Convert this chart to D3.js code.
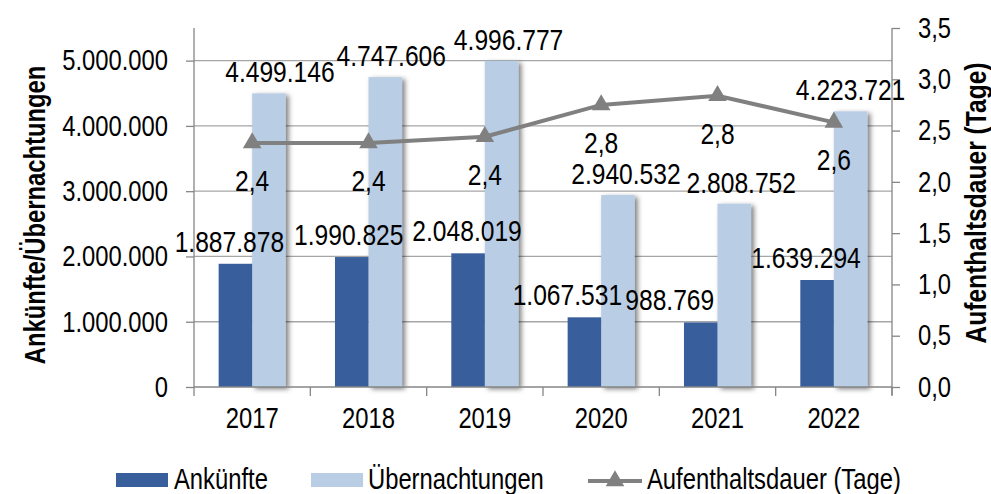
<!DOCTYPE html>
<html>
<head>
<meta charset="utf-8">
<script src="https://cdn.jsdelivr.net/npm/d3@7"></script>
<style>
  body { margin: 0; background: #fff; }
  svg text { font-family: "Liberation Sans Narrow", "Arial Narrow", "Liberation Sans", sans-serif; fill: #000; }
</style>
</head>
<body>
<svg width="991" height="494"></svg>
<script>
// data
var years = ["2017", "2018", "2019", "2020", "2021", "2022"];
var arrivals = [1887878, 1990825, 2048019, 1067531, 988769, 1639294];
var nights = [4499146, 4747606, 4996777, 2940532, 2808752, 4223721];
var stay = [2.38, 2.38, 2.44, 2.75, 2.84, 2.58];
var leftTicks = [0, 1000000, 2000000, 3000000, 4000000, 5000000];
var rightTicks = [0, 0.5, 1, 1.5, 2, 2.5, 3, 3.5];

// label nudges (layout only)
var arrDx = [-6, -3, -1, -17, -31, -11];
var nightDx = [11, 6, 7, 8, 7, 0];

var svg = d3.select("svg"),
  pLeft = 194, pRight = 892, pTop = 28, pBottom = 387;

var x = d3.scaleBand().domain(years).range([pLeft, pRight]);
var xs = d3.scaleBand().domain(["a", "n"]).range([0, x.bandwidth()]).paddingOuter(0.735);
var y = d3.scaleLinear().domain([0, 5500000]).range([pBottom, pTop]);
var y2 = d3.scaleLinear().domain([0, 3.5]).range([pBottom, pTop]);

var fmtDE = d3.formatLocale({ decimal: ",", thousands: ".", grouping: [3], currency: ["", " €"] });
var fmtInt = fmtDE.format(",d");
var fmt1 = fmtDE.format(".1f");

var dark = "#385f9b", light = "#b9cde5", lineCol = "#808080", axisCol = "#868686";

var defs = svg.append("defs");
var f = defs.append("filter").attr("id", "shadow")
  .attr("x", "-20%").attr("y", "-10%").attr("width", "150%").attr("height", "120%");
f.append("feDropShadow").attr("dx", 3).attr("dy", 2).attr("stdDeviation", 2.4)
  .attr("flood-color", "#000").attr("flood-opacity", 0.5);

// gridlines
svg.append("g")
  .selectAll("line")
  .data(leftTicks.slice(1))
  .enter().append("line")
    .attr("x1", pLeft).attr("x2", pRight)
    .attr("y1", function(d) { return y(d); })
    .attr("y2", function(d) { return y(d); })
    .attr("stroke", "#a6a6a6").attr("stroke-width", 1.3);

// bars
var groups = svg.append("g").selectAll("g")
  .data(years)
  .enter().append("g")
    .attr("transform", function(d) { return "translate(" + x(d) + ",0)"; });

groups.append("rect")
  .attr("filter", "url(#shadow)")
  .attr("x", xs("n"))
  .attr("width", xs.bandwidth())
  .attr("y", function(d, i) { return y(nights[i]); })
  .attr("height", function(d, i) { return pBottom - y(nights[i]); })
  .attr("fill", light);

groups.append("rect")
  .attr("x", xs("a"))
  .attr("width", xs.bandwidth())
  .attr("y", function(d, i) { return y(arrivals[i]); })
  .attr("height", function(d, i) { return pBottom - y(arrivals[i]); })
  .attr("fill", dark);

// left axis
var axL = svg.append("g")
  .attr("transform", "translate(" + pLeft + ",0)")
  .call(d3.axisLeft(y).tickValues(leftTicks).tickSize(8).tickPadding(18)
    .tickFormat(function(d) { return fmtInt(d); }));
axL.select(".domain").attr("d", "M0," + pTop + "V" + pBottom);

// right axis
var axR = svg.append("g")
  .attr("transform", "translate(" + pRight + ",0)")
  .call(d3.axisRight(y2).tickValues(rightTicks).tickSize(8).tickPadding(18)
    .tickFormat(function(d) { return fmt1(d); }));
axR.select(".domain").attr("d", "M0," + pTop + "V" + (pBottom + 8));

// bottom axis: ticks at band edges
var axB = svg.append("g")
  .attr("transform", "translate(0," + pBottom + ")")
  .call(d3.axisBottom(x).tickSize(0).tickPadding(20));
axB.select(".domain").attr("d", "M" + pLeft + ",0H" + pRight);
axB.selectAll(".edge")
  .data([pLeft].concat(years.map(function(d) { return x(d) + x.bandwidth(); })))
  .enter().append("line")
    .attr("class", "edge")
    .attr("x1", function(d) { return d; })
    .attr("x2", function(d) { return d; })
    .attr("y1", 0).attr("y2", 9)
    .attr("stroke", axisCol).attr("stroke-width", 1.3);

svg.selectAll(".domain, .tick line").attr("stroke", axisCol).attr("stroke-width", 1.3);
svg.selectAll(".tick text").attr("font-size", 29).attr("fill", "#000")
  .style("font-family", null);

// line
var line = d3.line()
  .x(function(d, i) { return x(years[i]) + x.bandwidth() / 2; })
  .y(function(d) { return y2(d); });

svg.append("path")
  .datum(stay)
  .attr("d", line)
  .attr("fill", "none")
  .attr("stroke", lineCol)
  .attr("stroke-width", 4);

var tri = d3.symbol().type(d3.symbolTriangle).size(150);
svg.append("g").selectAll("path")
  .data(stay)
  .enter().append("path")
    .attr("d", tri)
    .attr("fill", lineCol)
    .attr("transform", function(d, i) {
      return "translate(" + (x(years[i]) + x.bandwidth() / 2) + "," + y2(d) + ")";
    });

// data labels
var lab = svg.append("g").attr("font-size", 30).attr("text-anchor", "middle");

lab.selectAll(".la")
  .data(arrivals)
  .enter().append("text")
    .attr("x", function(d, i) { return x(years[i]) + xs("a") + xs.bandwidth() / 2 + arrDx[i]; })
    .attr("y", function(d) { return y(d) - 12; })
    .text(function(d) { return fmtInt(d); });

lab.selectAll(".ln")
  .data(nights)
  .enter().append("text")
    .attr("x", function(d, i) { return x(years[i]) + xs("n") + xs.bandwidth() / 2 + nightDx[i]; })
    .attr("y", function(d) { return y(d) - 11; })
    .text(function(d) { return fmtInt(d); });

lab.selectAll(".ls")
  .data(stay)
  .enter().append("text")
    .attr("x", function(d, i) { return x(years[i]) + x.bandwidth() / 2; })
    .attr("y", function(d) { return y2(d) + 48; })
    .text(function(d) { return fmt1(d); });

// axis titles
svg.append("text")
  .attr("transform", "translate(45,215) rotate(-90)")
  .attr("text-anchor", "middle")
  .attr("font-size", 29).attr("font-weight", "bold")
  .text("Ankünfte/Übernachtungen");

svg.append("text")
  .attr("transform", "translate(986,203) rotate(-90)")
  .attr("text-anchor", "middle")
  .attr("font-size", 30).attr("font-weight", "bold")
  .text("Aufenthaltsdauer (Tage)");

// legend
var lg = svg.append("g").attr("font-size", 29);
lg.append("rect").attr("x", 116).attr("y", 473).attr("width", 52).attr("height", 14).attr("fill", dark);
lg.append("text").attr("x", 174).attr("y", 489).text("Ankünfte");
lg.append("rect").attr("x", 311).attr("y", 473).attr("width", 52).attr("height", 14).attr("fill", light);
lg.append("text").attr("x", 368).attr("y", 489).text("Übernachtungen");
lg.append("line").attr("x1", 588).attr("x2", 642).attr("y1", 481).attr("y2", 481)
  .attr("stroke", lineCol).attr("stroke-width", 4);
lg.append("path").attr("d", tri).attr("fill", lineCol).attr("transform", "translate(615,481)");
lg.append("text").attr("x", 647).attr("y", 489).text("Aufenthaltsdauer (Tage)");

// narrow the text like Arial Narrow
svg.selectAll("text").each(function() {
  var w = this.getComputedTextLength();
  d3.select(this).attr("textLength", w * 0.82).attr("lengthAdjust", "spacingAndGlyphs");
});
</script>
</body>
</html>
